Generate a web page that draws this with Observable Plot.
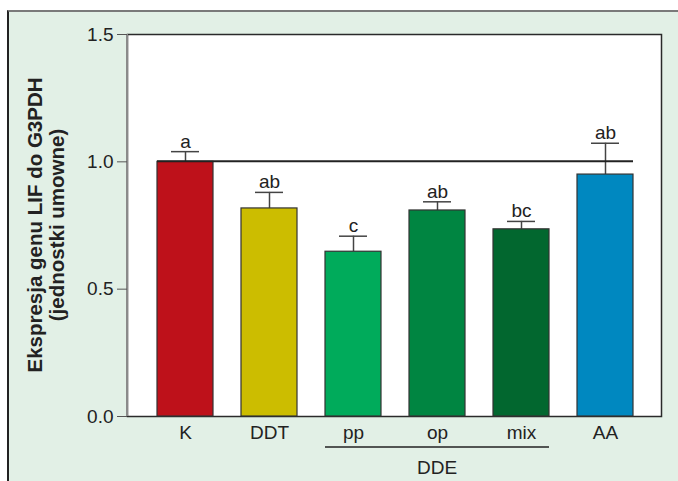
<!DOCTYPE html>
<html>
<head>
<meta charset="utf-8">
<script src="https://cdn.jsdelivr.net/npm/d3@7"></script>
<script src="https://cdn.jsdelivr.net/npm/@observablehq/plot@0.6"></script>
<style>
  html, body { margin: 0; padding: 0; background: #ffffff; }
  #wrap { position: relative; width: 678px; height: 481px; overflow: hidden; }
  #bg { position: absolute; left: 7px; top: 10px; width: 680px; height: 480px;
        background: #e2f0e6; border-top: 2px solid #7a7a7a; border-left: 2px solid #222; }
  #chart { position: absolute; left: 0; top: 0; }
  svg { font-family: "Liberation Sans", Arial, sans-serif; }
</style>
</head>
<body>
<div id="wrap"><div id="bg"></div><div id="chart"></div></div>
<script>
const categories = ["K", "DDT", "pp", "op", "mix", "AA"];
const values = [1.00, 0.817, 0.647, 0.809, 0.735, 0.950];
const errors = [0.04, 0.063, 0.061, 0.034, 0.031, 0.123];
const letters = ["a", "ab", "c", "ab", "bc", "ab"];
const colors = ["#be111a", "#ccbd00", "#00ab5b", "#008541", "#02672f", "#0088c0"];
const yTicks = [0, 0.5, 1.0, 1.5];
const refValue = 1.0;
const groupLabel = "DDE";
const groupMembers = ["pp", "mix"];
const yLabel1 = "Ekspresja genu LIF do G3PDH";
const yLabel2 = "(jednostki umowne)";

const data = categories.map((c, i) => ({cat: c, v: values[i], e: values[i] + errors[i], lab: letters[i], col: colors[i]}));

const W = 678, H = 481, mL = 127, mR = 17, mT = 34, mB = 65;
const step = 84.6, bw = 56;
const firstLeft = 155;
const pad = 1 - bw / step;
const FS = 19;

const plotBg = (index, scales, values, d) =>
  d3.create("svg:rect").attr("x", d.marginLeft).attr("y", d.marginTop)
    .attr("width", d.width - d.marginLeft - d.marginRight)
    .attr("height", d.height - d.marginTop - d.marginBottom)
    .attr("fill", "#ffffff").node();

const leftAxisLine = (index, scales, values, d) =>
  d3.create("svg:line").attr("x1", d.marginLeft).attr("x2", d.marginLeft)
    .attr("y1", d.marginTop).attr("y2", d.height - d.marginBottom)
    .attr("stroke", "#8a8a8a").attr("stroke-width", 2).node();

const refLine = (index, scales, values, dims) => {
  const x = scales.x, y = scales.y;
  return d3.create("svg:line")
    .attr("x1", x(categories[0])).attr("x2", x(categories[categories.length - 1]) + x.bandwidth())
    .attr("y1", y(refValue)).attr("y2", y(refValue))
    .attr("stroke", "#222").attr("stroke-width", 2).node();
};

const groupMark = (index, scales, values, dims) => {
  const x = scales.x;
  const g = d3.create("svg:g");
  const x0 = x(groupMembers[0]), x1 = x(groupMembers[1]) + x.bandwidth();
  const yBase = dims.height - dims.marginBottom;
  g.append("line").attr("x1", x0).attr("x2", x1).attr("y1", yBase + 31).attr("y2", yBase + 31)
    .attr("stroke", "#222").attr("stroke-width", 1.3);
  g.append("text").attr("x", (x(categories[3]) + x.bandwidth() / 2)).attr("y", yBase + 58)
    .attr("text-anchor", "middle").attr("font-size", FS).attr("fill", "#222").text(groupLabel);
  return g.node();
};

const yLabelMark = (index, scales, values, dims) => {
  const g = d3.create("svg:g");
  const cy = (dims.marginTop + dims.height - dims.marginBottom) / 2;
  const t = g.append("text").attr("transform", `translate(42,${cy}) rotate(-90)`)
    .attr("text-anchor", "middle").attr("font-size", 20.5).attr("font-weight", "bold").attr("fill", "#222");
  t.append("tspan").attr("x", 0).attr("y", 0).text(yLabel1);
  t.append("tspan").attr("x", 0).attr("y", 21.5).text(yLabel2);
  return g.node();
};

const plot = Plot.plot({
  width: W, height: H,
  marginLeft: mL, marginRight: mR, marginTop: mT, marginBottom: mB,
  style: {background: "transparent", fontFamily: "Liberation Sans, Arial, sans-serif"},
  x: {type: "band", domain: categories, range: [firstLeft - pad * step / 2, firstLeft - pad * step / 2 + step * categories.length], paddingInner: pad, paddingOuter: pad / 2},
  y: {domain: [0, 1.5], range: [H - mB, mT]},
  marks: [
    plotBg,
    Plot.frame({stroke: "#2a2a2a", strokeWidth: 1.5}),
    leftAxisLine,
    Plot.ruleX(data, {x: "cat", y1: "v", y2: "e", stroke: "#444", strokeWidth: 1.5}),
    Plot.tickY(data, {x: "cat", y: "e", stroke: "#444", strokeWidth: 1.5, inset: 14}),
    Plot.barY(data, {x: "cat", y: "v", fill: "col", stroke: "#333", strokeWidth: 1.2}),
    Plot.text(data, {x: "cat", y: "e", text: "lab", lineAnchor: "bottom", dy: -4, fontSize: FS, fill: "#222"}),
    Plot.axisY({ticks: yTicks, tickFormat: d3.format(".1f"), tickSize: 10, tickPadding: 4, fontSize: FS, stroke: "#555", color: "#222", label: null}),
    Plot.axisX({tickSize: 0, tickPadding: 9, fontSize: FS, color: "#222", label: null}),
    refLine,
    groupMark,
    yLabelMark
  ]
});
document.getElementById("chart").appendChild(plot);
</script>
</body>
</html>
